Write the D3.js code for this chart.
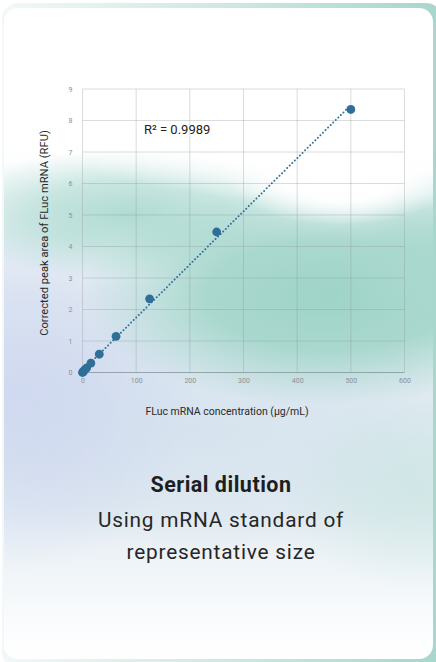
<!DOCTYPE html>
<html>
<head>
<meta charset="utf-8">
<script src="https://cdn.jsdelivr.net/npm/d3@7"></script>
<style>
  html, body { margin: 0; padding: 0; background: #ffffff; }
  svg { display: block; }
</style>
</head>
<body>
<svg id="card" width="436" height="662"></svg>
<script>
// Serial dilution standard curve: FLuc mRNA concentration vs corrected peak area
const concentrations = [0, 0.98, 1.95, 3.91, 7.81, 15.63, 31.25, 62.5, 125, 250, 500];
const peakAreas      = [0, 0.02, 0.04, 0.08, 0.15, 0.30, 0.58, 1.15, 2.34, 4.46, 8.35];
const xTicks = [0, 100, 200, 300, 400, 500, 600];
const yTicks = [0, 1, 2, 3, 4, 5, 6, 7, 8, 9];
const rSquaredLabel = "R² = 0.9989";
const xTitle = "FLuc mRNA concentration (µg/mL)";
const yTitle = "Corrected peak area of FLuc mRNA (RFU)";
const heading = "Serial dilution";
const captionLines = ["Using mRNA standard of", "representative size"];

const svg = d3.select("#card");
const defs = svg.append("defs");

// outer gradient frame
const frameGrad = defs.append("linearGradient").attr("id", "frameGrad")
  .attr("x1", "0").attr("x2", "1").attr("y1", "0").attr("y2", "0");
frameGrad.append("stop").attr("offset", "0").attr("stop-color", "#f2f8f8");
frameGrad.append("stop").attr("offset", "0.5").attr("stop-color", "#cfe8e4");
frameGrad.append("stop").attr("offset", "1").attr("stop-color", "#a6d6cd");

// card base: white top, pale blue-grey middle, white bottom
const baseGrad = defs.append("linearGradient").attr("id", "baseGrad")
  .attr("x1", "0").attr("x2", "0").attr("y1", "0").attr("y2", "1");
[["0", "#ffffff"], ["0.22", "#ffffff"], ["0.45", "#e6eef4"], ["0.78", "#e5edf3"], ["0.95", "#fbfcfd"], ["1", "#ffffff"]]
  .forEach(([o, c]) => baseGrad.append("stop").attr("offset", o).attr("stop-color", c));

function radial(id, color, stops) {
  const g = defs.append("radialGradient").attr("id", id);
  stops.forEach(([o, a]) => g.append("stop").attr("offset", o)
    .attr("stop-color", color).attr("stop-opacity", a));
}
radial("blobTeal", "#9fd4c8", [[0, 1], [0.5, 0.85], [1, 0]]);
radial("blobTeal2", "#a8d8ce", [[0, 0.9], [0.5, 0.6], [1, 0]]);
radial("blobTealFaint", "#bfe2da", [[0, 0.5], [0.5, 0.3], [1, 0]]);
radial("blobBlue", "#ccd5ef", [[0, 0.8], [0.5, 0.5], [1, 0]]);
radial("blobSky", "#d0dfec", [[0, 0.7], [0.55, 0.45], [1, 0]]);
radial("blobWhite", "#ffffff", [[0, 1], [0.5, 0.9], [1, 0]]);

defs.append("clipPath").attr("id", "cardClip")
  .append("rect").attr("x", 4).attr("y", 8).attr("width", 429).attr("height", 651).attr("rx", 14);
defs.append("clipPath").attr("id", "chartClip")
  .append("rect").attr("x", 0).attr("y", 86).attr("width", 436).attr("height", 576);

svg.append("rect").attr("x", 2).attr("y", 3).attr("width", 440).attr("height", 665)
  .attr("rx", 16).attr("fill", "url(#frameGrad)");

const card = svg.append("g").attr("clip-path", "url(#cardClip)");
card.append("rect").attr("x", 4).attr("y", 8).attr("width", 429).attr("height", 651).attr("fill", "url(#baseGrad)");

// soft colour washes behind the plot
const washes = [
  { cx: 200, cy: 430, rx: 320, ry: 120, f: "blobSky" },
  { cx: 20,  cy: 390, rx: 180, ry: 180, f: "blobBlue" },
  { cx: 130, cy: 215, rx: 200, ry: 65,  f: "blobTeal2" },
  { cx: 330, cy: 295, rx: 250, ry: 110, f: "blobTeal" },
  { cx: 436, cy: 260, rx: 90,  ry: 90,  f: "blobTeal2" },
  { cx: 420, cy: 490, rx: 140, ry: 100, f: "blobTealFaint" },
  { cx: 290, cy: 120, rx: 260, ry: 80,  f: "blobWhite" },
  { cx: 340, cy: 180, rx: 110, ry: 45,  f: "blobWhite" }
];
card.selectAll("ellipse.wash").data(washes).join("ellipse").attr("class", "wash")
  .attr("cx", d => d.cx).attr("cy", d => d.cy).attr("rx", d => d.rx).attr("ry", d => d.ry)
  .attr("fill", d => `url(#${d.f})`);

// plot
const margin = { left: 82.5, right: 404.5, top: 89, bottom: 372.5 };
const x = d3.scaleLinear().domain([0, 600]).range([margin.left, margin.right]);
const y = d3.scaleLinear().domain([0, 9]).range([margin.bottom, margin.top]);

const plot = card.append("g").attr("clip-path", "url(#chartClip)");
const tickFont = "Roboto, 'DejaVu Sans', sans-serif";

// gridlines
plot.append("g").selectAll("line").data(xTicks).join("line")
  .attr("x1", d => x(d)).attr("x2", d => x(d)).attr("y1", y(9)).attr("y2", y(0))
  .attr("stroke", "rgba(140,150,150,0.32)").attr("stroke-width", 1);
plot.append("g").selectAll("line").data(yTicks).join("line")
  .attr("x1", x(0)).attr("x2", x(600)).attr("y1", d => y(d)).attr("y2", d => y(d))
  .attr("stroke", "rgba(140,150,150,0.32)").attr("stroke-width", 1);
plot.append("line").attr("x1", x(0)).attr("x2", x(600)).attr("y1", y(0)).attr("y2", y(0))
  .attr("stroke", "rgba(120,135,140,0.55)").attr("stroke-width", 1.2);

// axes (labels only, no domain or tick marks)
const xAxis = plot.append("g").attr("transform", `translate(0,${y(0) + 6})`)
  .call(d3.axisBottom(x).tickValues(xTicks).tickSize(0).tickPadding(0));
const yAxis = plot.append("g").attr("transform", `translate(${x(0) - 10},0)`)
  .call(d3.axisLeft(y).tickValues(yTicks).tickSize(0).tickPadding(0));
[xAxis, yAxis].forEach(a => {
  a.select(".domain").remove();
  a.selectAll("text").attr("fill", "#8c8f94").style("font-family", tickFont).style("font-size", "7px");
});

// linear fit through the standards
const mx = d3.mean(concentrations), my = d3.mean(peakAreas);
const slope = d3.sum(concentrations, (c, i) => (c - mx) * (peakAreas[i] - my)) /
              d3.sum(concentrations, c => (c - mx) * (c - mx));
const intercept = my - slope * mx;
const fitX = [0, d3.max(concentrations)];
plot.append("path")
  .attr("d", d3.line().x(d => x(d)).y(d => y(intercept + slope * d))(fitX))
  .attr("fill", "none").attr("stroke", "#2f6f98").attr("stroke-width", 2)
  .attr("stroke-linecap", "round").attr("stroke-dasharray", "0 3.6");

// measured points
plot.append("g").selectAll("circle").data(concentrations).join("circle")
  .attr("cx", d => x(d)).attr("cy", (d, i) => y(peakAreas[i])).attr("r", 4.4)
  .attr("fill", "#2f6e97");

plot.append("text").attr("x", 144).attr("y", 133.5)
  .attr("fill", "#222").style("font-family", tickFont).style("font-size", "13px")
  .text(rSquaredLabel);

// axis titles
card.append("text").attr("x", 227).attr("y", 415).attr("text-anchor", "middle")
  .attr("fill", "#2a2a2a").style("font-family", tickFont).style("font-size", "10.5px")
  .text(xTitle);
card.append("text").attr("transform", `translate(48,233) rotate(-90)`).attr("text-anchor", "middle")
  .attr("fill", "#2a2a2a").style("font-family", tickFont).style("font-size", "11.2px")
  .text(yTitle);

// caption
card.append("text").attr("x", 221).attr("y", 492).attr("text-anchor", "middle")
  .attr("fill", "#1e1e1e").style("font-family", tickFont).style("font-size", "21.5px")
  .style("font-weight", "700").style("letter-spacing", "0.5px").text(heading);
card.selectAll("text.cap").data(captionLines).join("text").attr("class", "cap")
  .attr("x", 221).attr("y", (d, i) => 527 + i * 32).attr("text-anchor", "middle")
  .attr("fill", "#262626").style("font-family", tickFont).style("font-size", "20.8px")
  .style("letter-spacing", "0.8px").text(d => d);
</script>
</body>
</html>
